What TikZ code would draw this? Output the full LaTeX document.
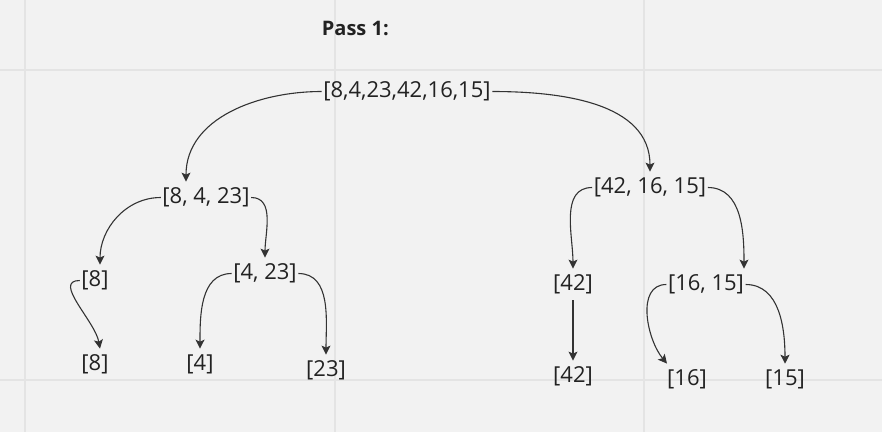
\documentclass[tikz,border=0pt]{standalone}
\usepackage{fontspec}
\setmainfont{Open Sans}
\usetikzlibrary{positioning}
\usetikzlibrary{arrows.meta}
\definecolor{bgcol}{HTML}{F2F2F2}
\definecolor{gridcol}{HTML}{E4E4E4}
\definecolor{inkcol}{HTML}{333333}
\definecolor{textcol}{HTML}{222222}

\begin{document}
\begin{tikzpicture}[
		x=1pt, y=1pt, on grid,
		listnode/.style={text=textcol, font=\fontsize{22}{26}\selectfont, inner xsep=1.5pt, inner ysep=6pt},
		titlenode/.style={text=textcol, font=\fontsize{20}{24}\selectfont\bfseries, inner sep=0pt},
		split/.style={draw=inkcol, line width=1.1pt, -{Stealth[length=9pt,width=9pt,inset=2pt]}},
		]
		%Background
		\fill[bgcol] (0,0) rectangle (882,-432);
		\useasboundingbox (0,0) rectangle (882,-432);
		\foreach \gx in {25,335,644} \draw[gridcol, line width=2pt] (\gx,0) -- (\gx,-432);
		\foreach \gy in {70,380} \draw[gridcol, line width=2pt] (0,-\gy) -- (882,-\gy);
		
		%Nodes
		\node[listnode]  (root)                                      at (407,-91.5) {[8,4,23,42,16,15]};
		\node[titlenode] (pass)   [above=63pt of root.west, anchor=west]          {Pass 1:};
		\node[listnode]  (left)   [below left=106pt and 201pt of root]            {[8, 4, 23]};
		\node[listnode]  (right)  [below right=96pt and 243pt of root]            {[42, 16, 15]};
		\node[listnode]  (l-8)    [below left=83pt and 111pt of left]             {[8]};
		\node[listnode]  (l-4-23) [below right=76pt and 59pt of left]             {[4, 23]};
		\node[listnode]  (r-42)   [below left=97pt and 77pt of right]             {[42]};
		\node[listnode]  (r-16-15)[below right=97pt and 56pt of right]            {[16, 15]};
		\node[listnode]  (o-8)    [below=84pt of l-8]                             {[8]};
		\node[listnode]  (o-4)    [below left=91pt and 65pt of l-4-23]            {[4]};
		\node[listnode]  (o-23)   [below right=97pt and 61pt of l-4-23]           {[23]};
		\node[listnode]  (o-42)   [below=92pt of r-42]                            {[42]};
		\node[listnode]  (o-16)   [below left=95pt and 19pt of r-16-15]           {[16]};
		\node[listnode]  (o-15)   [below right=95pt and 79pt of r-16-15]          {[15]};
		
		%Lines
		\draw[split] (root.west) to[out=180, in=90] ([xshift=-20pt]left.north);
		\draw[split] (root.east) to[out=0, in=90] (right.north);
		\draw[split] (left.west) to[out=180, in=90] ([xshift=5pt]l-8.north);
		\draw[split] (left.east) to[out=0, in=90] (l-4-23.north);
		\draw[split] (right.west) to[out=180, in=90] (r-42.north);
		\draw[split] (right.east) to[out=0, in=90] ([xshift=38pt]r-16-15.north);
		\draw[split] (l-8.west) to[out=180, in=100] ([xshift=5pt]o-8.north);
		\draw[split] (l-4-23.west) to[out=180, in=90] (o-4.north);
		\draw[split] (l-4-23.east) to[out=0, in=90] (o-23.north);
		\draw[split] (r-42.south) -- (o-42.north);
		\draw[split] (r-16-15.west) to[out=180, in=130] ([xshift=-20pt]o-16.north);
		\draw[split] (r-16-15.east) to[out=0, in=90] (o-15.north);
		
	\end{tikzpicture}
\end{document}
